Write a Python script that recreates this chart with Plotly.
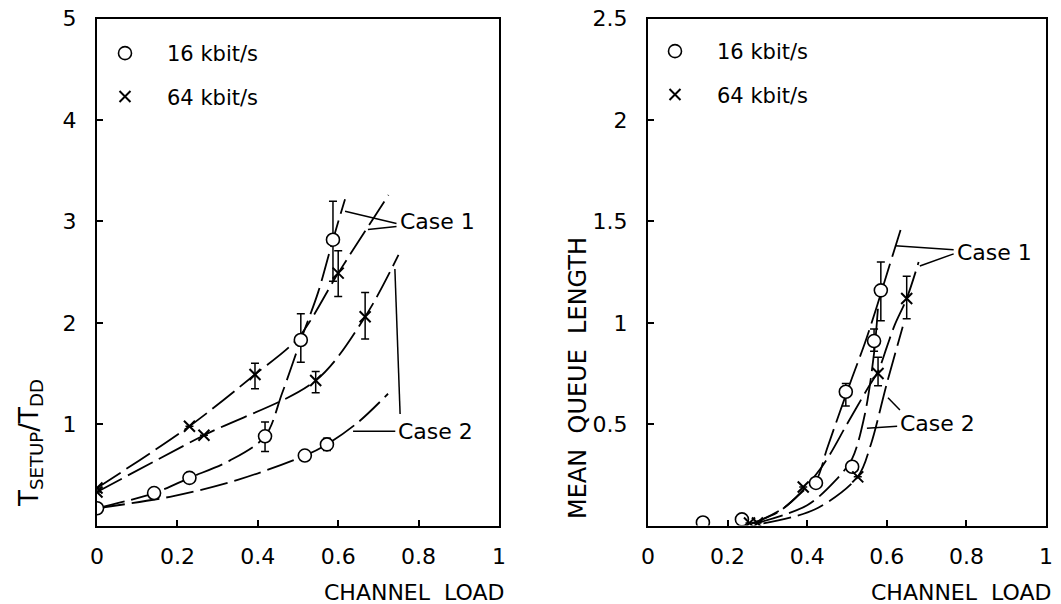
import plotly.graph_objects as go

# ---------------- data: left panel (T_SETUP / T_DD) ----------------
x16_left = [0, 0.142, 0.23, 0.418, 0.507, 0.517, 0.572, 0.587]
y16_left = [0.17, 0.32, 0.47, 0.88, 1.83, 0.69, 0.80, 2.82]
e16_left_up = [None, None, None, 0.14, 0.26, 0.03, 0.06, 0.38]
e16_left_dn = [None, None, None, 0.15, 0.22, 0.03, 0.06, 0.41]

x64_left = [0, 0, 0.23, 0.266, 0.393, 0.544, 0.60, 0.667]
y64_left = [0.37, 0.33, 0.98, 0.89, 1.49, 1.43, 2.49, 2.06]
e64_left_up = [None, None, None, None, 0.11, 0.09, 0.22, 0.24]
e64_left_dn = [None, None, None, None, 0.14, 0.12, 0.23, 0.22]

# fitted curves, left panel
c16_case1_left_x = [0, 0.142, 0.23, 0.33, 0.418, 0.46, 0.507, 0.55, 0.587, 0.617]
c16_case1_left_y = [0.17, 0.32, 0.47, 0.64, 0.88, 1.30, 1.83, 2.30, 2.82, 3.22]
c16_case2_left_x = [0, 0.19, 0.35, 0.517, 0.572, 0.65, 0.724]
c16_case2_left_y = [0.17, 0.29, 0.45, 0.69, 0.80, 1.02, 1.30]
c64_case1_left_x = [0, 0.23, 0.393, 0.50, 0.60, 0.725]
c64_case1_left_y = [0.37, 0.98, 1.49, 1.85, 2.49, 3.26]
c64_case2_left_x = [0, 0.266, 0.544, 0.667, 0.75]
c64_case2_left_y = [0.33, 0.89, 1.43, 2.06, 2.67]

# ---------------- data: right panel (mean queue length) ----------------
x16_right = [0.138, 0.236, 0.422, 0.497, 0.513, 0.568, 0.585]
y16_right = [0.015, 0.03, 0.21, 0.66, 0.29, 0.91, 1.16]
e16_right_up = [None, None, None, 0.04, 0.02, 0.06, 0.14]
e16_right_dn = [None, None, None, 0.07, 0.02, 0.05, 0.15]

x64_right = [0.255, 0.275, 0.39, 0.527, 0.578, 0.65]
y64_right = [0.012, 0.012, 0.19, 0.24, 0.75, 1.12]
e64_right_up = [None, None, None, None, 0.08, 0.11]
e64_right_dn = [None, None, None, None, 0.06, 0.10]

c16_case1_right_x = [0.26, 0.33, 0.39, 0.422, 0.45, 0.482, 0.513, 0.545, 0.575, 0.60, 0.635]
c16_case1_right_y = [0.01, 0.07, 0.17, 0.22, 0.38, 0.56, 0.73, 0.90, 1.08, 1.24, 1.46]
c16_case2_right_x = [0.27, 0.40, 0.47, 0.513, 0.545, 0.568, 0.578]
c16_case2_right_y = [0.01, 0.10, 0.22, 0.33, 0.55, 0.85, 1.08]
c64_case1_right_x = [0.265, 0.35, 0.437, 0.50, 0.553, 0.578, 0.60, 0.62, 0.65, 0.68]
c64_case1_right_y = [0.01, 0.10, 0.29, 0.50, 0.68, 0.76, 0.88, 0.99, 1.12, 1.30]
c64_case2_right_x = [0.29, 0.42, 0.527, 0.56, 0.60, 0.64]
c64_case2_right_y = [0.01, 0.08, 0.24, 0.40, 0.70, 0.98]

x_ticks = [0, 0.2, 0.4, 0.6, 0.8, 1]
x_ticktext = ["0", "0.2", "0.4", "0.6", "0.8", "1"]
y_ticks_left = [1, 2, 3, 4, 5]
y_ticks_right = [0.5, 1, 1.5, 2, 2.5]
y_ticktext_right = ["0.5", "1", "1.5", "2", "2.5"]

FONT = "DejaVu Sans"
DASH = "28px,7px"
W, H, OFF = 1061, 604, 8  # page body margin shifts the figure by OFF px


def px(xs):
    return (xs - OFF) / W


def py(ys):
    return 1 - (ys - OFF) / H


fig = go.Figure()


def add_curve(x, y, xa, ya):
    fig.add_trace(go.Scatter(
        x=x, y=y, mode="lines", xaxis=xa, yaxis=ya, showlegend=False,
        hoverinfo="skip",
        line=dict(color="black", width=1.8, dash=DASH, shape="spline", smoothing=0.9)))


add_curve(c16_case1_left_x, c16_case1_left_y, "x", "y")
add_curve(c16_case2_left_x, c16_case2_left_y, "x", "y")
add_curve(c64_case1_left_x, c64_case1_left_y, "x", "y")
add_curve(c64_case2_left_x, c64_case2_left_y, "x", "y")
add_curve(c16_case1_right_x, c16_case1_right_y, "x2", "y2")
add_curve(c16_case2_right_x, c16_case2_right_y, "x2", "y2")
add_curve(c64_case1_right_x, c64_case1_right_y, "x2", "y2")
add_curve(c64_case2_right_x, c64_case2_right_y, "x2", "y2")


def add_points(x, y, up, dn, xa, ya, name, symbol, legend, group):
    is_circle = symbol == "circle"
    fig.add_trace(go.Scatter(
        x=x, y=y, mode="markers", xaxis=xa, yaxis=ya, name=name,
        legend=legend, legendgroup=group,
        marker=dict(symbol=symbol, size=13 if is_circle else 11,
                    color="white" if is_circle else "black",
                    line=dict(color="black", width=1.6 if is_circle else 2)),
        error_y=dict(type="data", symmetric=False, array=up, arrayminus=dn,
                     color="black", thickness=1.5, width=4)))


add_points(x16_left, y16_left, e16_left_up, e16_left_dn, "x", "y",
           "16 kbit/s", "circle", "legend", "a")
add_points(x64_left, y64_left, e64_left_up, e64_left_dn, "x", "y",
           "64 kbit/s", "x-thin", "legend", "b")
add_points(x16_right, y16_right, e16_right_up, e16_right_dn, "x2", "y2",
           "16 kbit/s", "circle", "legend2", "c")
add_points(x64_right, y64_right, e64_right_up, e64_right_dn, "x2", "y2",
           "64 kbit/s", "x-thin", "legend2", "d")

axis_common = dict(showline=True, linecolor="black", linewidth=2, mirror=True,
                   ticks="inside", ticklen=6, tickwidth=2, tickcolor="black",
                   showgrid=False, zeroline=False, automargin=False,
                   ticklabeloverflow="allow",
                   tickfont=dict(family=FONT, size=22, color="black"))
# overlay axes that only add the outer half of each crossing tick mark
tick_overlay = dict(showline=False, ticks="outside", ticklen=5, tickwidth=2,
                    tickcolor="black", showticklabels=False, showgrid=False,
                    zeroline=False, automargin=False)

Y0, Y1 = py(525.5), py(18.75)
XL = [px(97), px(499)]
XR = [px(648), px(1046)]
fig.update_layout(
    width=W, height=H,
    margin=dict(l=0, r=0, t=0, b=0, autoexpand=False),
    paper_bgcolor="white", plot_bgcolor="white",
    font=dict(family=FONT, color="black"),
    xaxis=dict(domain=XL, range=[0, 1], anchor="y",
               tickvals=x_ticks, ticktext=x_ticktext, ticklabelstandoff=10, **axis_common),
    yaxis=dict(domain=[Y0, Y1], range=[0, 5], anchor="x",
               tickvals=y_ticks_left, ticklabelstandoff=14, **axis_common),
    xaxis2=dict(domain=XR, range=[0, 1], anchor="y2",
                tickvals=x_ticks, ticktext=x_ticktext, ticklabelstandoff=10, **axis_common),
    yaxis2=dict(domain=[Y0, Y1], range=[0, 2.5], anchor="x2",
                tickvals=y_ticks_right, ticktext=y_ticktext_right, ticklabelstandoff=14,
                **axis_common),
    xaxis3=dict(domain=XL, range=[0, 1], anchor="y", overlaying="x",
                tickvals=x_ticks, **tick_overlay),
    yaxis3=dict(domain=[Y0, Y1], range=[0, 5], anchor="x", overlaying="y",
                tickvals=y_ticks_left, **tick_overlay),
    xaxis4=dict(domain=XR, range=[0, 1], anchor="y2", overlaying="x2",
                tickvals=x_ticks, **tick_overlay),
    yaxis4=dict(domain=[Y0, Y1], range=[0, 2.5], anchor="x2", overlaying="y2",
                tickvals=y_ticks_right, **tick_overlay),
    legend=dict(x=px(83), y=py(33), xanchor="left", yanchor="top",
                bgcolor="rgba(0,0,0,0)", font=dict(family=FONT, size=21),
                traceorder="grouped", tracegroupgap=13, itemwidth=74),
    legend2=dict(x=px(633), y=py(31), xanchor="left", yanchor="top",
                 bgcolor="rgba(0,0,0,0)", font=dict(family=FONT, size=21),
                 traceorder="grouped", tracegroupgap=13, itemwidth=74),
)

ann = []
# axis titles
ann.append(dict(text="T<sub>SETUP</sub>/T<sub>DD</sub>", xref="paper", yref="paper",
                x=px(30), y=py(443), xanchor="center", yanchor="middle",
                textangle=-90, showarrow=False, font=dict(family=FONT, size=26)))
ann.append(dict(text="MEAN  QUEUE  LENGTH", xref="paper", yref="paper",
                x=px(578), y=py(378), xanchor="center", yanchor="middle",
                textangle=-90, showarrow=False, font=dict(family=FONT, size=24)))
ann.append(dict(text="CHANNEL  LOAD", xref="paper", yref="paper",
                x=px(506), y=py(592), xanchor="right", yanchor="middle", showarrow=False,
                font=dict(family=FONT, size=22)))
ann.append(dict(text="CHANNEL  LOAD", xref="paper", yref="paper",
                x=px(1053), y=py(592), xanchor="right", yanchor="middle", showarrow=False,
                font=dict(family=FONT, size=22)))
# case labels
for xr, yr, x, y, t in [("x", "y", 0.749, 3.0, "Case 1"), ("x", "y", 0.744, 0.93, "Case 2"),
                        ("x2", "y2", 0.771, 1.346, "Case 1"), ("x2", "y2", 0.628, 0.503, "Case 2")]:
    ann.append(dict(text=t, xref=xr, yref=yr, x=x, y=y, xanchor="left", yanchor="middle",
                    showarrow=False, font=dict(family=FONT, size=22)))
fig.update_layout(annotations=ann)

# leader lines
leaders = [
    ("x", "y", 0.745, 2.98, 0.617, 3.10),
    ("x", "y", 0.745, 2.95, 0.674, 2.92),
    ("x", "y", 0.742, 0.93, 0.637, 0.93),
    ("x", "y", 0.754, 1.10, 0.741, 2.53),
    ("x2", "y2", 0.768, 1.36, 0.621, 1.38),
    ("x2", "y2", 0.768, 1.34, 0.683, 1.28),
    ("x2", "y2", 0.626, 0.49, 0.55, 0.48),
    ("x2", "y2", 0.633, 0.57, 0.603, 0.63),
]
for xr, yr, xa, ya, xb, yb in leaders:
    fig.add_shape(type="line", xref=xr, yref=yr, x0=xa, y0=ya, x1=xb, y1=yb,
                  line=dict(color="black", width=1.5))

fig.write_html("out.html")
